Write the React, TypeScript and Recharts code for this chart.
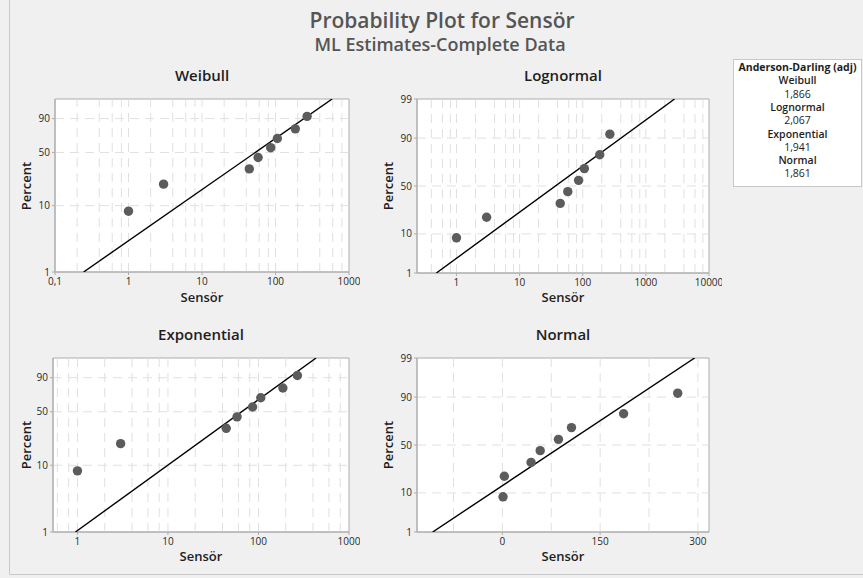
import React from 'react';
import {
  ScatterChart,
  Scatter,
  XAxis,
  YAxis,
  CartesianGrid,
  ReferenceLine,
  ReferenceArea,
} from 'recharts';

// ---------- data ----------
const sensorValues = [1, 3, 44, 58, 86, 106, 186, 269];
const percentValues = [8.3, 20.2, 32.1, 44.0, 56.0, 67.9, 79.8, 91.7];

const weibullFit = [
  { x: 0.245, p: 1 },
  { x: 590, p: 99 },
];
const lognormalFit = [
  { x: 0.48, p: 1 },
  { x: 2850, p: 99 },
];
const exponentialFit = [
  { x: 0.95, p: 1 },
  { x: 433, p: 99 },
];
const normalFit = [
  { x: -107, p: 1 },
  { x: 295, p: 99 },
];

const weibullXTicks = [0.1, 1, 10, 100, 1000];
const lognormalXTicks = [1, 10, 100, 1000, 10000];
const exponentialXTicks = [1, 10, 100, 1000];
const normalXTicks = [0, 150, 300];

const weibullXDomain = [0.1, 1000];
const lognormalXDomain = [0.237, 10000];
const exponentialXDomain = [0.537, 1000];
const normalXDomain = [-131, 317];

const weibullXGrid = [0.2, 0.4, 0.6, 0.8, 1, 2, 4, 6, 8, 10, 20, 40, 60, 80, 100, 200, 400, 600, 800];
const lognormalXGrid = [0.4, 0.6, 0.8, 1, 2, 4, 6, 8, 10, 20, 40, 60, 80, 100, 200, 400, 600, 800, 1000, 2000, 4000, 6000, 8000];
const exponentialXGrid = [0.6, 0.8, 1, 2, 4, 6, 8, 10, 20, 40, 60, 80, 100, 200, 400, 600, 800];
const normalXGrid = [-75, 0, 75, 150, 225, 300];

const smallestExtremeYTicks = [1, 10, 50, 90];
const normalYTicks = [1, 10, 50, 90, 99];
const yGridPercents = [10, 50, 90];
const percentDomain = [1, 99];

const adLabels = ['Weibull', 'Lognormal', 'Exponential', 'Normal'];
const adValues = ['1,866', '2,067', '1,941', '1,861'];

// ---------- probability transforms ----------
function weibullY(p: number) {
  return Math.log(-Math.log(1 - p / 100));
}

function probit(pp: number) {
  const p = pp / 100;
  const a = [-3.969683028665376e1, 2.209460984245205e2, -2.759285104469687e2, 1.38357751867269e2, -3.066479806614716e1, 2.506628277459239];
  const b = [-5.447609879822406e1, 1.615858368580409e2, -1.556989798598866e2, 6.680131188771972e1, -1.328068155288572e1];
  const c = [-7.784894002430293e-3, -3.223964580411365e-1, -2.400758277161838, -2.549732539343734, 4.374664141464968, 2.938163982698783];
  const d = [7.784695709041462e-3, 3.224671290700398e-1, 2.445134137142996, 3.754408661907416];
  const plow = 0.02425;
  const phigh = 1 - plow;
  if (p < plow) {
    const q = Math.sqrt(-2 * Math.log(p));
    return (((((c[0] * q + c[1]) * q + c[2]) * q + c[3]) * q + c[4]) * q + c[5]) /
      ((((d[0] * q + d[1]) * q + d[2]) * q + d[3]) * q + 1);
  }
  if (p <= phigh) {
    const q = p - 0.5;
    const r = q * q;
    return ((((((a[0] * r + a[1]) * r + a[2]) * r + a[3]) * r + a[4]) * r + a[5]) * q) /
      (((((b[0] * r + b[1]) * r + b[2]) * r + b[3]) * r + b[4]) * r + 1);
  }
  const q = Math.sqrt(-2 * Math.log(1 - p));
  return -(((((c[0] * q + c[1]) * q + c[2]) * q + c[3]) * q + c[4]) * q + c[5]) /
    ((((d[0] * q + d[1]) * q + d[2]) * q + d[3]) * q + 1);
}

const FONT = "'Open Sans', 'Noto Sans', sans-serif";
const GRID = '#e0e0e0';
const FRAME = '#acacac';

type Box = { left: number; top: number; width: number; height: number; mt: number; mr: number };

function Panel(props: {
  box: Box;
  xScale: 'log' | 'linear';
  xDomain: number[];
  xTicks: number[];
  xGrid: number[];
  yf: (p: number) => number;
  yTicks: number[];
  fit: { x: number; p: number }[];
}) {
  const { box, xScale, xDomain, xTicks, xGrid, yf, yTicks, fit } = props;
  const yDomain = [yf(percentDomain[0]), yf(percentDomain[1])];
  const yTickVals = yTicks.map(yf);
  const pts = sensorValues.map((x, i) => ({ x, y: yf(percentValues[i]) }));
  const fitData = fit.map((f) => ({ x: f.x, y: yf(f.p) }));
  const yFmt = (v: number) => {
    const i = yTickVals.findIndex((t) => Math.abs(t - v) < 1e-6);
    return i >= 0 ? String(yTicks[i]) : '';
  };
  const xFmt = (v: number) => String(v).replace('.', ',');
  return (
    <div style={{ position: 'absolute', left: box.left, top: box.top }}>
      <ScatterChart
        width={box.width}
        height={box.height}
        margin={{ top: box.mt, right: box.mr, bottom: 0, left: 0 }}
      >
        <CartesianGrid fill="#ffffff" horizontal={false} vertical={false} stroke="none" />
        <XAxis
          type="number"
          dataKey="x"
          scale={xScale}
          domain={xDomain}
          ticks={xTicks}
          interval={0}
          allowDataOverflow
          height={30}
          tickFormatter={xFmt}
          tick={{ fill: '#2a2a2a', fontSize: 10 }}
          tickSize={3}
          tickMargin={3}
          stroke={FRAME}
        />
        <YAxis
          type="number"
          dataKey="y"
          domain={yDomain}
          ticks={yTickVals}
          interval={0}
          allowDataOverflow
          width={45}
          tickFormatter={yFmt}
          tick={{ fill: '#2a2a2a', fontSize: 10 }}
          tickSize={3}
          tickMargin={2}
          stroke={FRAME}
        />
        {xGrid.map((v) => (
          <ReferenceLine key={'gx' + v} x={v} stroke={GRID} strokeDasharray="9 6" />
        ))}
        {yGridPercents.map((p) => (
          <ReferenceLine key={'gy' + p} y={yf(p)} stroke={GRID} strokeDasharray="9 6" />
        ))}
        <ReferenceArea
          x1={xDomain[0]}
          x2={xDomain[1]}
          y1={yDomain[0]}
          y2={yDomain[1]}
          fill="none"
          fillOpacity={0}
          stroke={FRAME}
        />
        <Scatter
          data={fitData}
          line={{ stroke: '#000', strokeWidth: 1.4 }}
          shape={() => <g />}
          isAnimationActive={false}
        />
        <Scatter
          data={pts}
          fill="#5c5c5c"
          shape={(s: any) => <circle cx={s.cx} cy={s.cy} r={4.7} fill="#5c5c5c" />}
          isAnimationActive={false}
        />
      </ScatterChart>
    </div>
  );
}

function Background() {
  const panelTitle = { fontSize: 15, fontWeight: 600, fill: '#1e1e1e', textAnchor: 'middle' as const };
  const axisTitle = { fontSize: 13, fontWeight: 600, fill: '#1e1e1e', textAnchor: 'middle' as const };
  const lineStep = 13.3;
  const legendTop = 67;
  return (
    <svg
      width={863}
      height={578}
      style={{ position: 'absolute', left: 0, top: 0, fontFamily: FONT }}
    >
      <rect x={0} y={0} width={863} height={578} fill="#f0f0f0" />
      <line x1={9.5} y1={0} x2={9.5} y2={574.5} stroke="#c8c8c8" />
      <line x1={9.5} y1={574.5} x2={863} y2={574.5} stroke="#c8c8c8" />

      <text x={442} y={20} dominantBaseline="central" textAnchor="middle" fontSize={21} fontWeight={600} fill="#555">
        Probability Plot for Sensör
      </text>
      <text x={440} y={44} dominantBaseline="central" textAnchor="middle" fontSize={18} fontWeight={600} fill="#555">
        ML Estimates-Complete Data
      </text>

      <text x={202} y={75} dominantBaseline="central" {...panelTitle}>Weibull</text>
      <text x={563} y={75} dominantBaseline="central" {...panelTitle}>Lognormal</text>
      <text x={201} y={334} dominantBaseline="central" {...panelTitle}>Exponential</text>
      <text x={563} y={334} dominantBaseline="central" {...panelTitle}>Normal</text>

      <text x={202} y={297} dominantBaseline="central" {...axisTitle}>Sensör</text>
      <text x={563} y={297} dominantBaseline="central" {...axisTitle}>Sensör</text>
      <text x={201} y={556} dominantBaseline="central" {...axisTitle}>Sensör</text>
      <text x={563} y={556} dominantBaseline="central" {...axisTitle}>Sensör</text>

      <text x={26} y={186} dominantBaseline="central" transform="rotate(-90 26 186)" {...axisTitle}>Percent</text>
      <text x={388} y={186} dominantBaseline="central" transform="rotate(-90 388 186)" {...axisTitle}>Percent</text>
      <text x={26} y={445} dominantBaseline="central" transform="rotate(-90 26 445)" {...axisTitle}>Percent</text>
      <text x={388} y={445} dominantBaseline="central" transform="rotate(-90 388 445)" {...axisTitle}>Percent</text>

      <rect x={733.5} y={59.5} width={128} height={127} fill="#ffffff" stroke="#c8c8c8" />
      <text x={797.5} y={legendTop} dominantBaseline="central" textAnchor="middle" fontSize={10.5} fontWeight={700} fill="#1e1e1e">
        Anderson-Darling (adj)
      </text>
      {adLabels.map((lab, i) => (
        <React.Fragment key={lab}>
          <text
            x={797.5}
            y={legendTop + lineStep * (1 + 2 * i)}
            dominantBaseline="central"
            textAnchor="middle"
            fontSize={10.5}
            fontWeight={600}
            fill="#1e1e1e"
          >
            {lab}
          </text>
          <text
            x={797.5}
            y={legendTop + lineStep * (2 + 2 * i)}
            dominantBaseline="central"
            textAnchor="middle"
            fontSize={10.5}
            fill="#1e1e1e"
          >
            {adValues[i]}
          </text>
        </React.Fragment>
      ))}
    </svg>
  );
}

export default function App() {
  return (
    <div
      style={{
        position: 'absolute',
        left: 0,
        top: 0,
        width: 863,
        height: 578,
        overflow: 'hidden',
        fontFamily: FONT,
      }}
    >
      <Background />
      <Panel
        box={{ left: 10, top: 90, width: 350, height: 212, mt: 9, mr: 11 }}
        xScale="log"
        xDomain={weibullXDomain}
        xTicks={weibullXTicks}
        xGrid={weibullXGrid}
        yf={weibullY}
        yTicks={smallestExtremeYTicks}
        fit={weibullFit}
      />
      <Panel
        box={{ left: 372, top: 90, width: 350, height: 213, mt: 9, mr: 13 }}
        xScale="log"
        xDomain={lognormalXDomain}
        xTicks={lognormalXTicks}
        xGrid={lognormalXGrid}
        yf={probit}
        yTicks={normalYTicks}
        fit={lognormalFit}
      />
      <Panel
        box={{ left: 8, top: 349, width: 352, height: 213, mt: 9, mr: 11 }}
        xScale="log"
        xDomain={exponentialXDomain}
        xTicks={exponentialXTicks}
        xGrid={exponentialXGrid}
        yf={weibullY}
        yTicks={smallestExtremeYTicks}
        fit={exponentialFit}
      />
      <Panel
        box={{ left: 372, top: 349, width: 350, height: 213, mt: 9, mr: 13 }}
        xScale="linear"
        xDomain={normalXDomain}
        xTicks={normalXTicks}
        xGrid={normalXGrid}
        yf={probit}
        yTicks={normalYTicks}
        fit={normalFit}
      />
    </div>
  );
}
